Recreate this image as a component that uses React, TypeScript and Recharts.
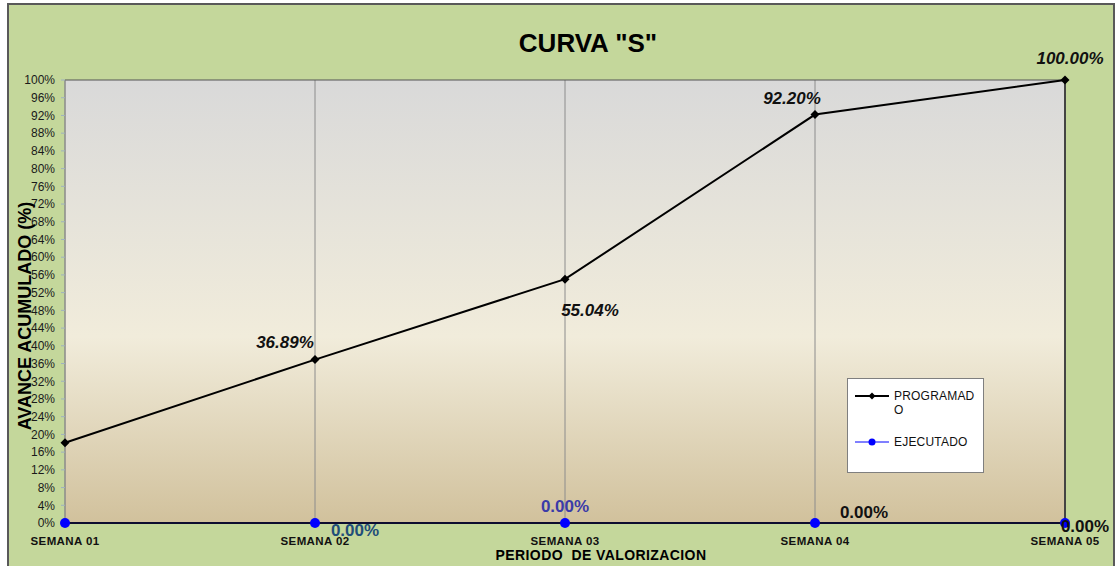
import { CartesianGrid, Legend, LabelList, Line, LineChart, ReferenceLine, XAxis, YAxis } from 'recharts';

const semanas = ['SEMANA 01', 'SEMANA 02', 'SEMANA 03', 'SEMANA 04', 'SEMANA 05'];
const programado = [18.13, 36.89, 55.04, 92.2, 100.0];
const ejecutado = [0, 0, 0, 0, 0];
const yTicks = [0, 4, 8, 12, 16, 20, 24, 28, 32, 36, 40, 44, 48, 52, 56, 60, 64, 68, 72, 76, 80, 84, 88, 92, 96, 100];

const data = semanas.map((semana, i) => ({ semana, programado: programado[i], ejecutado: ejecutado[i] }));

const FONT = '"Liberation Sans", Arial, sans-serif';

// label placement tweaks, copied by eye from the original
const progLabelPos = [null, { dx: -30, dy: -17 }, { dx: 25, dy: 31 }, { dx: -23, dy: -16 }, { dx: 5, dy: -22 }];
const ejecLabelPos = [
  null,
  { dx: 40, dy: 7, color: '#1F4E79' },
  { dx: 0, dy: -17, color: '#3B3BA8' },
  { dx: 49, dy: -11, color: '#111' },
  { dx: 20, dy: 3, color: '#111' },
];

function Diamond(props: any) {
  const { cx, cy, index } = props;
  if (cx == null || cy == null) return null;
  return <path key={`d-${index}`} d={`M${cx},${cy - 4.5}L${cx + 4.5},${cy}L${cx},${cy + 4.5}L${cx - 4.5},${cy}Z`} fill="#000" />;
}

function ProgLabel(props: any) {
  const { x, y, value, index } = props;
  const p = progLabelPos[index];
  if (!p) return null;
  return (
    <text x={x + p.dx} y={y + p.dy} textAnchor="middle" dominantBaseline="central"
      fontFamily={FONT} fontSize={17} fontWeight="bold" fontStyle="italic" fill="#111">
      {Number(value).toFixed(2)}%
    </text>
  );
}

function EjecLabel(props: any) {
  const { x, y, value, index } = props;
  const p = ejecLabelPos[index];
  if (!p) return null;
  return (
    <text x={x + p.dx} y={y + p.dy} textAnchor="middle" dominantBaseline="central"
      fontFamily={FONT} fontSize={17} fontWeight="bold" fill={p.color}>
      {Number(value).toFixed(2)}%
    </text>
  );
}

function LegendBox() {
  const row = { display: 'flex', alignItems: 'flex-start' } as const;
  return (
    <div style={{ width: 137, height: 95, background: '#fff', border: '1px solid #7f7f7f', boxSizing: 'border-box', fontFamily: FONT, fontSize: 12, color: '#111', padding: '10px 0 0 7px' }}>
      <div style={row}>
        <svg width={36} height={14} style={{ marginTop: 0 }}>
          <line x1={0} y1={7} x2={34} y2={7} stroke="#000" strokeWidth={2} />
          <path d="M17,3.5L20.5,7L17,10.5L13.5,7Z" fill="#000" />
        </svg>
        <div style={{ width: 82, wordBreak: 'break-all', lineHeight: '14px', marginLeft: 3, letterSpacing: 0.2 }}>PROGRAMADO</div>
      </div>
      <div style={{ ...row, marginTop: 18 }}>
        <svg width={36} height={14}>
          <line x1={0} y1={7} x2={34} y2={7} stroke="#0000FF" strokeWidth={1} />
          <circle cx={17} cy={7} r={3.5} fill="#0000FF" />
        </svg>
        <div style={{ lineHeight: '14px', marginLeft: 3, letterSpacing: 0.2 }}>EJECUTADO</div>
      </div>
    </div>
  );
}

export default function App() {
  return (
    <div style={{ position: 'fixed', left: 0, top: 0, width: 1117, height: 566, overflow: 'hidden', background: '#fff' }}>
      <div style={{ position: 'absolute', left: 7, top: 3, width: 1104, height: 600, border: '2px solid #595959', background: '#C4D79B' }} />
      <div style={{ position: 'absolute', left: 0, top: 0 }}>
        <LineChart width={1117} height={566} data={data} margin={{ top: 80, right: 52, bottom: 3, left: 8 }}>
          <defs>
            <linearGradient id="plotBg" x1="0" y1="0" x2="0" y2="1">
              <stop offset="0%" stopColor="#D9D9D9" />
              <stop offset="58%" stopColor="#F1ECDB" />
              <stop offset="100%" stopColor="#D1C19C" />
            </linearGradient>
          </defs>
          <CartesianGrid horizontal={false} stroke="#8C8C8C" fill="url(#plotBg)" fillOpacity={1} />
          <XAxis dataKey="semana" height={40} interval={0} tickLine={false} tickMargin={8}
            axisLine={{ stroke: '#000', strokeWidth: 1.5 }}
            tick={{ fontFamily: FONT, fontSize: 11.5, fontWeight: 'bold', fill: '#111', letterSpacing: 0.4 }} />
          <YAxis width={57} domain={[0, 100]} ticks={yTicks} interval={0} tickSize={4} tickMargin={6}
            tickFormatter={(v: number) => `${v}%`}
            axisLine={{ stroke: '#8A8A8A' }} tickLine={{ stroke: '#9FB0C0' }}
            tick={{ fontFamily: FONT, fontSize: 12, fill: '#1a1a1a' }} />
          <ReferenceLine y={100} stroke="#555" strokeWidth={1} />
          <ReferenceLine x="SEMANA 05" stroke="#444" strokeWidth={2} />
          <Legend layout="vertical" align="center" verticalAlign="middle" content={() => <LegendBox />}
            wrapperStyle={{ left: 847, top: 378, width: 137, height: 95 }} />
          <Line type="linear" dataKey="programado" name="PROGRAMADO" stroke="#000" strokeWidth={2}
            dot={Diamond} activeDot={false} isAnimationActive={false}>
            <LabelList dataKey="programado" content={ProgLabel} />
          </Line>
          <Line type="linear" dataKey="ejecutado" name="EJECUTADO" stroke="#0000CC" strokeWidth={1.5}
            dot={{ r: 5, fill: '#0000FF', stroke: 'none' }} activeDot={false} isAnimationActive={false}>
            <LabelList dataKey="ejecutado" content={EjecLabel} />
          </Line>
        </LineChart>
      </div>
      <div style={{ position: 'absolute', left: 488, top: 26, width: 200, textAlign: 'center', fontFamily: FONT, fontSize: 26, fontWeight: 'bold', color: '#000', lineHeight: '34px' }}>
        CURVA "S"
      </div>
      <svg width={1117} height={566} style={{ position: 'absolute', left: 0, top: 0, pointerEvents: 'none' }}>
        <text x={25} y={316} transform="rotate(-90 25 316)" textAnchor="middle" dominantBaseline="central"
          fontFamily={FONT} fontSize={18} fontWeight="bold" fill="#000">AVANCE  ACUMULADO  (%)</text>
        <text x={601} y={555} textAnchor="middle" dominantBaseline="central"
          fontFamily={FONT} fontSize={14} fontWeight="bold" fill="#000" letterSpacing={0.4} style={{ whiteSpace: 'pre' }}>PERIODO  DE VALORIZACION</text>
      </svg>
    </div>
  );
}
